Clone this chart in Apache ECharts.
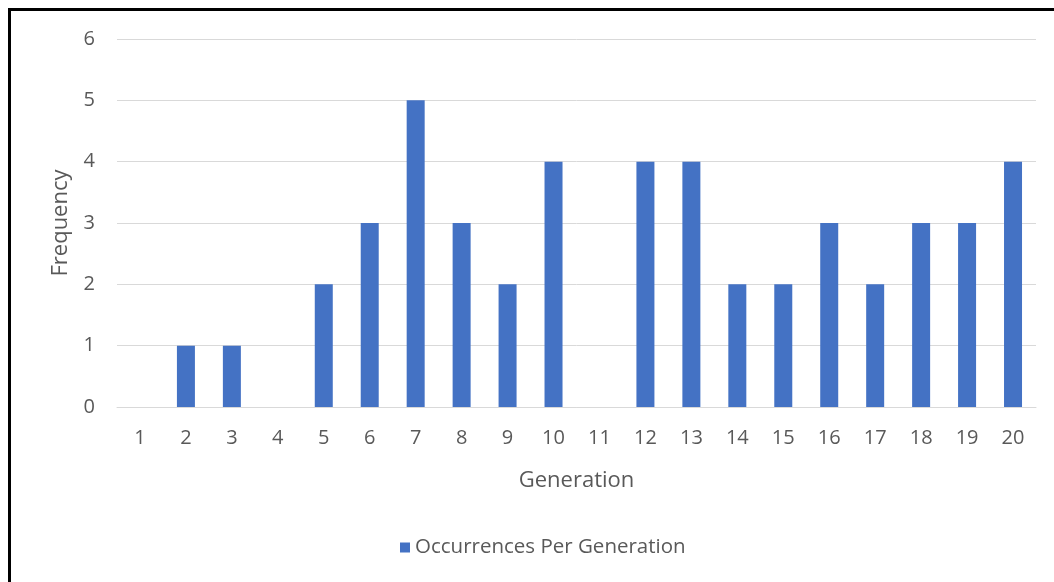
<!DOCTYPE html>
<html>
<head>
<meta charset="utf-8">
<script src="https://cdn.jsdelivr.net/npm/echarts@6/dist/echarts.min.js"></script>
<style>
  html, body { margin: 0; padding: 0; background: #fff; }
  #chart { width: 1054px; height: 582px; }
</style>
</head>
<body>
<div id="chart"></div>
<script>
// Generations 1..20 and how often the event occurred in each
const generations = ['1','2','3','4','5','6','7','8','9','10','11','12','13','14','15','16','17','18','19','20'];
const occurrences = [0,1,1,0,2,3,5,3,2,4,0,4,4,2,2,3,2,3,3,4];
const seriesName = 'Occurrences Per Generation';

const textColor = '#595959';
const fontFamily = '"Open Sans", "Noto Sans", sans-serif';

const chart = echarts.init(document.getElementById('chart'));
chart.setOption({
  backgroundColor: '#fff',
  animation: false,
  textStyle: { fontFamily: fontFamily, color: textColor },
  graphic: [
    { type: 'rect', left: 8, top: 8, shape: { width: 3, height: 600 }, style: { fill: '#000' } },
    { type: 'rect', left: 8, top: 8, shape: { width: 1100, height: 3 }, style: { fill: '#000' } }
  ],
  grid: { left: 117, right: 18, top: 39, bottom: 175, containLabel: false },
  legend: {
    bottom: 19,
    left: 395,
    itemWidth: 10,
    itemHeight: 10,
    icon: 'rect',
    itemGap: 10,
    textStyle: { fontSize: 20.5, color: textColor, fontFamily: fontFamily },
    data: [seriesName]
  },
  xAxis: {
    type: 'category',
    data: generations,
    name: 'Generation',
    nameLocation: 'middle',
    nameGap: 63,
    nameTextStyle: { fontSize: 22, color: textColor },
    axisLine: { lineStyle: { color: '#D9D9D9', width: 1 } },
    axisTick: { show: false },
    axisLabel: { fontSize: 20, color: textColor, margin: 21 }
  },
  yAxis: {
    type: 'value',
    min: 0,
    max: 6,
    interval: 1,
    name: 'Frequency',
    nameLocation: 'middle',
    nameGap: 45,
    nameTextStyle: { fontSize: 22, color: textColor },
    axisLine: { show: false },
    axisTick: { show: false },
    splitLine: { lineStyle: { color: '#D9D9D9', width: 1 } },
    axisLabel: { fontSize: 20, color: textColor, margin: 22 }
  },
  series: [{
    name: seriesName,
    type: 'bar',
    data: occurrences,
    barWidth: 18,
    itemStyle: { color: '#4472C4' }
  }]
});
</script>
</body>
</html>
